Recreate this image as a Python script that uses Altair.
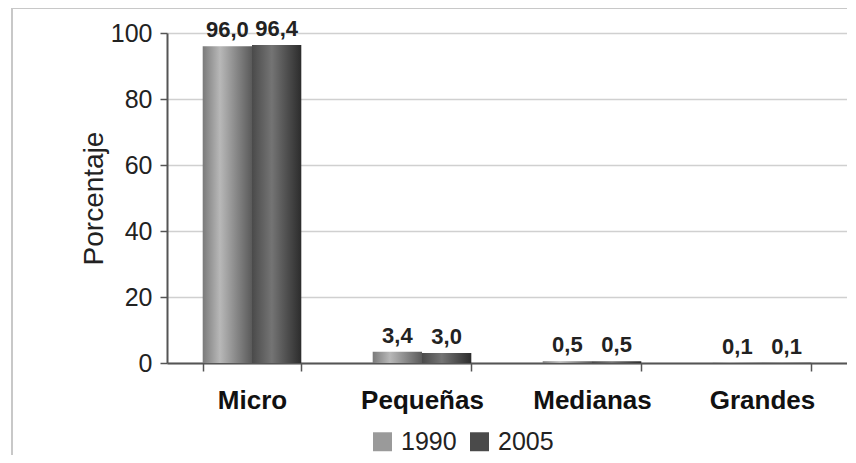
import altair as alt
import pandas as pd

categories = ["Micro", "Pequeñas", "Medianas", "Grandes"]
years = ["1990", "2005"]
values_1990 = [96.0, 3.4, 0.5, 0.1]
values_2005 = [96.4, 3.0, 0.5, 0.1]
y_ticks = [0, 20, 40, 60, 80, 100]

rows = []
for c, a, b in zip(categories, values_1990, values_2005):
    rows.append({"cat": c, "year": "1990", "value": a})
    rows.append({"cat": c, "year": "2005", "value": b})
df = pd.DataFrame(rows)

W, H = 680, 330
FONT = "Liberation Sans"
PAD = {"left": 159, "top": 25, "right": 0, "bottom": 92}

x = alt.X(
    "cat:N", sort=categories,
    scale=alt.Scale(paddingInner=0.42, paddingOuter=0.21),
    axis=alt.Axis(title=None, tickBand="extent", labelFont=FONT, labelFontSize=26,
                  labelFontWeight="bold", labelColor="#111", labelPadding=16,
                  tickSize=8, tickColor="#555", tickWidth=1.5, domainColor="#555",
                  domainWidth=2, grid=False, labelAngle=0),
)
xo = alt.XOffset("year:N", scale=alt.Scale(domain=years, padding=0))
y = alt.Y(
    "value:Q", scale=alt.Scale(domain=[0, 100]),
    axis=alt.Axis(values=y_ticks, title="Porcentaje", titleFont=FONT, titleFontSize=28,
                  titleFontWeight="normal", titleColor="#222", titlePadding=2,
                  labelFont=FONT, labelFontSize=25, labelColor="#222", labelPadding=8,
                  tickSize=7, tickColor="#555", tickWidth=1.5, domainColor="#555",
                  domainWidth=2, gridColor="#d0d0d0", gridWidth=1.5),
)


def grad(stops):
    return alt.Gradient(
        gradient="linear", x1=0, x2=1, y1=0, y2=0,
        stops=[alt.GradientStop(offset=o, color=c) for o, c in stops],
    )


g1990 = grad([(0, "#7a7a7a"), (0.35, "#b8b8b8"), (1, "#5a5a5a")])
g2005 = grad([(0, "#4a4a4a"), (0.4, "#747474"), (1, "#2c2c2c")])

base = alt.Chart(df)

frame = alt.Chart(pd.DataFrame({"a": [0]})).mark_rect(
    fill="transparent", stroke="#c8c8c8", strokeWidth=2
).encode(
    x=alt.value(-155), x2=alt.value(W + 20),
    y=alt.value(-25), y2=alt.value(H + PAD["bottom"] + 10),
)

bars90 = base.transform_filter("datum.year == '1990'").mark_bar(fill=g1990).encode(
    x=x, xOffset=xo, y=y)
bars05 = base.transform_filter("datum.year == '2005'").mark_bar(fill=g2005).encode(
    x=x, xOffset=xo, y=y)

labels = base.transform_calculate(
    label="replace(format(datum.value, '.1f'), '.', ',')"
).mark_text(baseline="bottom", dy=-4, font=FONT, fontSize=22, fontWeight="bold",
            color="#222").encode(x=x, xOffset=xo, y=y, text="label:N")

legend_layer = base.mark_square(opacity=0).encode(
    x=x, xOffset=xo, y=y,
    color=alt.Color(
        "year:N",
        scale=alt.Scale(domain=years, range=["#9a9a9a", "#4a4a4a"]),
        legend=alt.Legend(title=None, orient="none", legendX=203, legendY=396,
                          direction="horizontal", symbolType="square", symbolSize=360,
                          symbolOpacity=1, symbolStrokeWidth=0, labelFont=FONT,
                          labelFontSize=25, labelColor="#222", columnPadding=10,
                          labelOffset=6, padding=0),
    ),
)

chart = alt.layer(frame, bars90, bars05, labels, legend_layer).properties(
    width=W, height=H, autosize=alt.AutoSizeParams(type="none"), padding=PAD,
    background="white",
).configure_view(stroke=None)

chart.save("out.html", embed_options={"renderer": "svg", "actions": False})
